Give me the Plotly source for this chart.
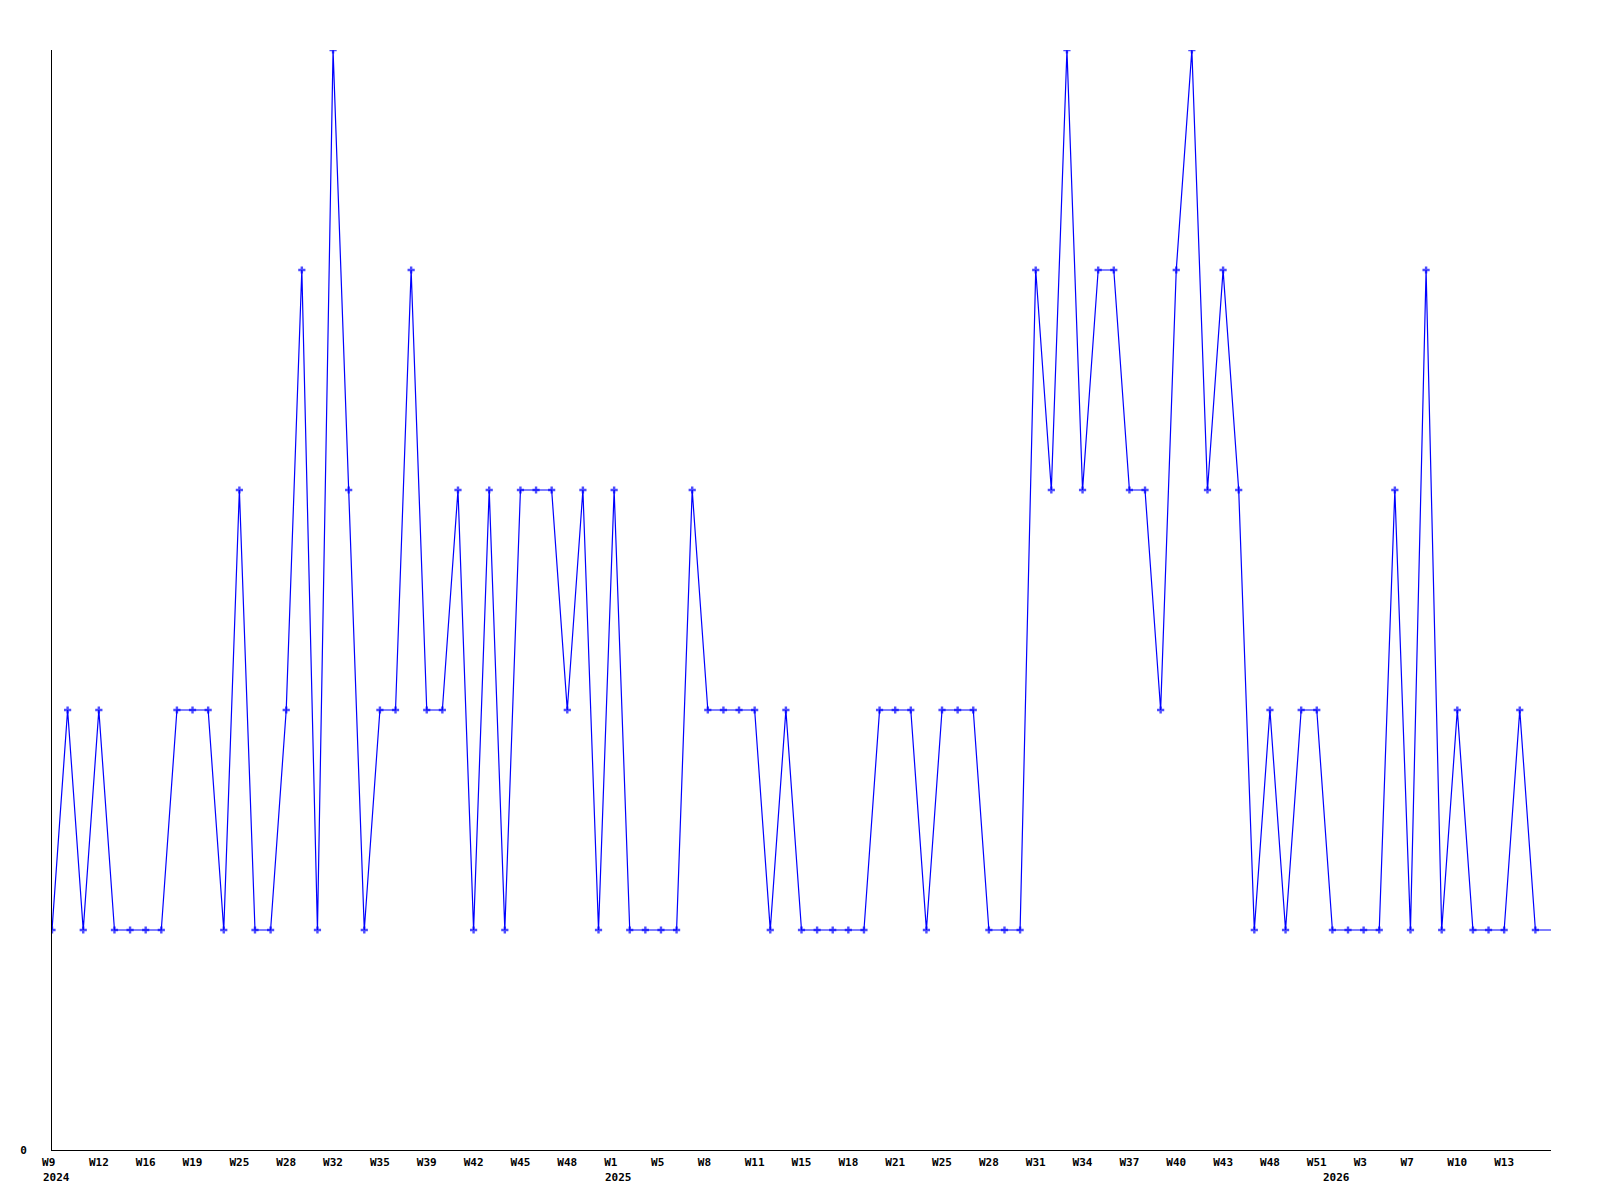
import plotly.graph_objects as go

# Weekly counts (one point per reported week), W9 2024 .. 2026
values = [1, 2, 1, 2, 1, 1, 1, 1, 2, 2,
          2, 1, 3, 1, 1, 2, 4, 1, 5, 3,
          1, 2, 2, 4, 2, 2, 3, 1, 3, 1,
          3, 3, 3, 2, 3, 1, 3, 1, 1, 1,
          1, 3, 2, 2, 2, 2, 1, 2, 1, 1,
          1, 1, 1, 2, 2, 2, 1, 2, 2, 2,
          1, 1, 1, 4, 3, 5, 3, 4, 4, 3,
          3, 2, 4, 5, 3, 4, 3, 1, 2, 1,
          2, 2, 1, 1, 1, 1, 3, 1, 4, 1,
          2, 1, 1, 1, 2, 1, 1]

# Tick labels shown every third point
tick_labels = ["W9", "W12", "W16", "W19", "W25", "W28", "W32", "W35", "W39", "W42",
               "W45", "W48", "W1", "W5", "W8", "W11", "W15", "W18", "W21", "W25",
               "W28", "W31", "W34", "W37", "W40", "W43", "W48", "W51", "W3", "W7",
               "W10", "W13"]
tick_step = 3

# Year markers: label and index of the first point of that year
year_labels = ["2024", "2025", "2026"]
year_index = [0, 36, 82]

x = list(range(len(values)))
tickvals = [i * tick_step for i in range(len(tick_labels))]
ticktext = [t if len(t) >= 3 else t + "\u00a0" for t in tick_labels]

marker_sizes = [6] * len(values)
marker_sizes[-1] = 0  # last point sits on the plot edge, marker not drawn

fig = go.Figure()
fig.add_trace(go.Scatter(
    x=x, y=values, mode="lines+markers",
    line=dict(color="#0000ff", width=1.2),
    marker=dict(symbol="cross", size=marker_sizes, color="#0000ff",
                line=dict(width=0)),
    showlegend=False, hoverinfo="skip",
))

font = dict(family="DejaVu Sans Mono", size=11, color="black", weight="bold")

for lbl, idx in zip(year_labels, year_index):
    fig.add_annotation(x=idx, y=0, xref="x", yref="paper", text=lbl,
                       showarrow=False, xanchor="left", yanchor="top",
                       xshift=-11, yshift=-19, font=font)

fig.update_layout(
    width=1592, height=1192,
    margin=dict(l=42, r=49, t=42, b=50),
    paper_bgcolor="white", plot_bgcolor="white",
    xaxis=dict(range=[0, len(values) - 1], tickvals=tickvals, ticktext=ticktext,
               showgrid=False, zeroline=False, showline=True, linecolor="black",
               linewidth=1, ticks="", tickfont=font, ticklabelstandoff=2,
               tickangle=0),
    yaxis=dict(range=[0, 5], tickvals=[0], ticktext=["0"], showgrid=False,
               zeroline=False, showline=True, linecolor="black", linewidth=1,
               ticks="", tickfont=font, ticklabelstandoff=22),
)

fig.write_html("out.html")
